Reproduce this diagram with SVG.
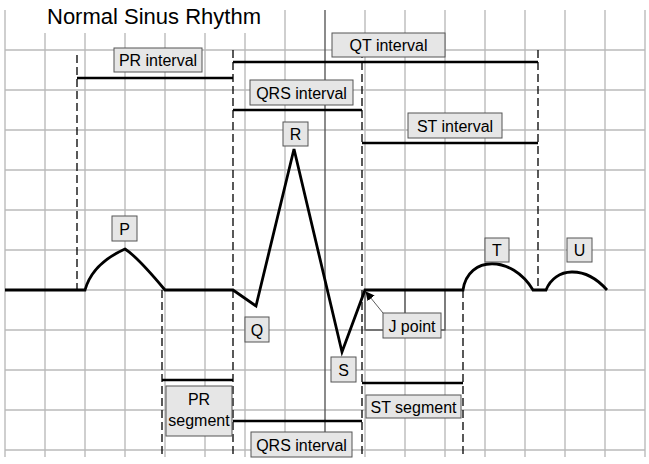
<svg xmlns="http://www.w3.org/2000/svg" width="649" height="464" viewBox="0 0 649 464">
<defs>
<style>
.grid{stroke:#bbbbbb;stroke-width:1.4;fill:none}
.dark{stroke:#5a5a5a;stroke-width:1.4;fill:none}
.dash{stroke:#000;stroke-width:1.3;stroke-dasharray:8,4;fill:none}
.bar{stroke:#000;stroke-width:2.6;fill:none}
.trace{stroke:#000;stroke-width:2.8;fill:none;stroke-linejoin:miter;stroke-linecap:butt}
.box{fill:#e6e6e6;stroke:#555;stroke-width:1}
.lbl{font-family:"Liberation Sans",Arial,sans-serif;font-size:16px;fill:#000;text-anchor:middle}
.title{font-family:"Liberation Sans",Arial,sans-serif;font-size:22px;fill:#000}
</style>
<marker id="ah" viewBox="0 0 10 10" refX="9" refY="5" markerWidth="9" markerHeight="9" markerUnits="userSpaceOnUse" orient="auto">
<path d="M0,0 L10,5 L0,10 z" fill="#000"/>
</marker>
</defs>
<rect width="649" height="464" fill="#fff"/>
<g id="grid">
<path class="grid" d="M5,10V457M45,10V457M85,10V457M125,10V457M165,10V457M205,10V457M245,10V457M285,10V457M365,10V457M405,10V457M445,10V457M485,10V457M525,10V457M565,10V457M605,10V457M645,10V457"/>
<path class="grid" d="M5,50H645M5,90H645M5,130H645M5,170H645M5,210H645M5,250H645M5,290H645M5,330H645M5,370H645M5,410H645M5,450H645"/>
<path class="dark" d="M325,10V457"/>
<path class="dark" d="M365,290V330H445V290M405,290V330"/>
</g>
<g id="title">
<rect x="40" y="9" width="230" height="24" fill="#fff"/>
<text class="title" x="47" y="24">Normal Sinus Rhythm</text>
</g>
<g id="connectors">
<path class="dash" d="M77,55V290"/>
<path class="dash" d="M233,50V457"/>
<path class="dash" d="M162,290V457"/>
<path class="dash" d="M362,50V457"/>
<path class="dash" d="M538,50V288"/>
<path class="dash" d="M463,290V457"/>
<path class="bar" d="M77,78H233"/>
<path class="bar" d="M233,62H538"/>
<path class="bar" d="M233,110H362"/>
<path class="bar" d="M362,143H538"/>
<path class="bar" d="M162,380H233"/>
<path class="bar" d="M362,383H463"/>
<path class="bar" d="M233,421H362"/>
<path d="M383,313L366,292" stroke="#333" stroke-width="0.8" fill="none" marker-end="url(#ah)"/>
</g>
<g id="trace">
<path class="trace" d="M5,290H85C90,272 105,258 125,249C136,256 150,272 165,290H233L256,306L294,149L342,352L365,290H463C468,255 512,255 533,290H546C555,267 585,265 607,290"/>
</g>
<g id="pr-interval"><rect class="box" x="114" y="48" width="88" height="24"/><text class="lbl" x="158" y="66">PR interval</text></g>
<g id="qt-interval"><rect class="box" x="332" y="33" width="113" height="24"/><text class="lbl" x="388.5" y="51">QT interval</text></g>
<g id="qrs-interval-top"><rect class="box" x="250" y="80" width="103" height="25"/><text class="lbl" x="301.5" y="98.5">QRS interval</text></g>
<g id="st-interval"><rect class="box" x="408" y="113" width="94" height="25"/><text class="lbl" x="455" y="131.5">ST interval</text></g>
<g id="R"><rect class="box" x="283" y="122" width="25" height="24"/><text class="lbl" x="295.5" y="140">R</text></g>
<g id="P"><rect class="box" x="112" y="216" width="25" height="25"/><text class="lbl" x="124.5" y="234.5">P</text></g>
<g id="T"><rect class="box" x="485" y="238" width="24" height="24"/><text class="lbl" x="497" y="256">T</text></g>
<g id="U"><rect class="box" x="567" y="238" width="25" height="24"/><text class="lbl" x="579.5" y="256">U</text></g>
<g id="Q"><rect class="box" x="245" y="317" width="24" height="25"/><text class="lbl" x="257" y="335.5">Q</text></g>
<g id="S"><rect class="box" x="331" y="357" width="25" height="25"/><text class="lbl" x="343.5" y="375.5">S</text></g>
<g id="j-point"><rect class="box" x="383" y="313" width="58" height="25"/><text class="lbl" x="412" y="331.5">J point</text></g>
<g id="pr-segment"><rect class="box" x="166" y="386" width="66" height="50"/><text class="lbl" x="199" y="405">PR</text><text class="lbl" x="199" y="426">segment</text></g>
<g id="st-segment"><rect class="box" x="366" y="395" width="95" height="23"/><text class="lbl" x="413.5" y="412.5">ST segment</text></g>
<g id="qrs-interval-bottom"><rect class="box" x="251" y="432" width="101" height="25"/><text class="lbl" x="301.5" y="450.5">QRS interval</text></g>
</svg>
